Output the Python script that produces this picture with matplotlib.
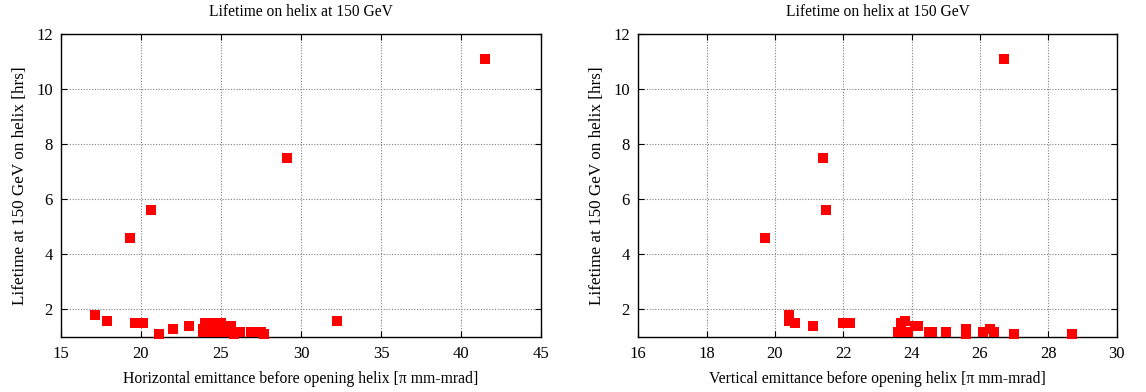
import matplotlib.pyplot as plt
from matplotlib.ticker import MultipleLocator

plt.rcParams['font.family'] = ['Liberation Serif', 'DejaVu Serif']
plt.rcParams['font.size'] = 10.5

# Horizontal emittance vs lifetime
emit_h = [41.5, 29.1, 20.6, 19.3, 17.1, 17.9, 19.6, 20.1, 21.1, 22.0, 23.0, 32.25,
          24.0, 24.5, 25.0, 25.6, 23.85, 23.9, 24.5, 24.8, 25.2, 26.2, 25.8, 26.9, 27.5, 27.7]
life_h = [11.1, 7.5, 5.6, 4.6, 1.8, 1.57, 1.5, 1.5, 1.1, 1.29, 1.39, 1.57,
          1.5, 1.5, 1.5, 1.39, 1.28, 1.17, 1.17, 1.17, 1.17, 1.17, 1.1, 1.17, 1.17, 1.1]

# Vertical emittance vs lifetime
emit_v = [26.7, 21.4, 21.5, 19.7, 20.4, 20.4, 20.6, 21.1, 22.0, 22.2, 23.6, 23.9, 23.8,
          23.7, 24.1, 24.2, 24.5, 24.6, 25.0, 25.6, 25.6, 26.1, 26.3, 26.4, 27.0, 28.7]
life_v = [11.1, 7.5, 5.6, 4.6, 1.79, 1.58, 1.5, 1.39, 1.5, 1.5, 1.17, 1.17, 1.57,
          1.5, 1.39, 1.39, 1.17, 1.17, 1.17, 1.28, 1.1, 1.17, 1.28, 1.17, 1.1, 1.1]

title = 'Lifetime on helix at 150 GeV'
ylabel = 'Lifetime at 150 GeV on helix [hrs]'

fig = plt.figure(figsize=(11.46, 3.92), dpi=100)
ax1 = fig.add_axes([0.0532, 0.141, 0.4189, 0.7715])
ax2 = fig.add_axes([0.557, 0.141, 0.4174, 0.7715])

panels = [
    (ax1, emit_h, life_h, (15, 45), 5, 'Horizontal emittance before opening helix [\u03c0 mm-mrad]'),
    (ax2, emit_v, life_v, (16, 30), 2, 'Vertical emittance before opening helix [\u03c0 mm-mrad]'),
]

for ax, xs, ys, xlim, xstep, xlabel in panels:
    ax.plot(xs, ys, 's', color='#ff0000', markersize=7.2, markeredgewidth=0, clip_on=False, zorder=3)
    ax.set_xlim(*xlim)
    ax.set_ylim(1, 12)
    ax.xaxis.set_major_locator(MultipleLocator(xstep))
    ax.set_yticks([2, 4, 6, 8, 10, 12])
    ax.grid(True, color='0.5', linestyle=(0, (1, 1.5)), linewidth=0.8)
    ax.tick_params(direction='in', top=True, right=True, length=4, width=0.8, labelsize=12)
    ax.tick_params(axis='x', pad=7)
    ax.tick_params(axis='y', pad=6)
    for s in ax.spines.values():
        s.set_linewidth(1.0)
    ax.set_title(title, pad=13, fontsize=11.2)
    ax.set_xlabel(xlabel, labelpad=6, fontsize=11.3)
    ax.set_ylabel(ylabel, labelpad=6, fontsize=12.3)

fig.savefig('out.png', dpi=100)
